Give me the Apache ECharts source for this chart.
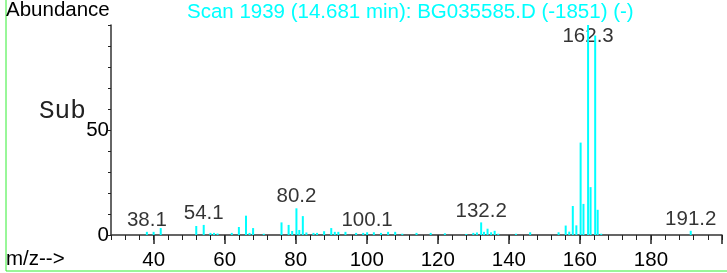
<!DOCTYPE html>
<html>

<head>
  <meta charset="utf-8">
  <title>Mass Spectrum</title>
  <script src="https://cdn.jsdelivr.net/npm/echarts@6/dist/echarts.min.js"></script>
</head>

<body style="margin:0">
  <div id="main" style="width:727px;height:273px"></div>
  <script type="text/javascript">
    var myChart = echarts.init(document.getElementById('main'));

    // m/z of each peak and its relative abundance
    var peakMz = [38.1, 40, 42, 52, 54.1, 56, 57, 58, 62, 64, 66, 67, 68, 71, 76, 78, 79, 80.2, 81, 82,
      83, 85, 86, 88, 90, 91, 92, 94, 97, 99, 100.1, 102, 104, 106, 108, 110, 114, 118, 122, 128,
      130, 131, 132.2, 133, 134, 135, 136, 137, 142, 146, 154, 156, 157, 158, 159, 160.2, 161, 162.3, 163, 164.3,
      165, 166, 191.2];
    var peakAbund = [1.5, 1.5, 3.3, 4.3, 4.8, 1, 1, 0.7, 1, 3.8, 9.2, 1, 3.3, 0.6, 6, 4.8, 1.9, 12.7, 2.4, 9,
      1.2, 1, 1, 1.8, 3.3, 1.5, 1.5, 1.5, 1, 1, 1.3, 1.3, 1, 1.5, 1.5, 0.6, 1, 1, 0.8, 0.5,
      1, 1.2, 6, 1.5, 3, 1.3, 2, 0.6, 0.6, 1.3, 1.3, 4.5, 1.6, 13.8, 4.6, 44, 14.8, 100, 22.8, 95,
      12, 0.6, 2];

    // peaks that carry a mass label
    var labelMz = [38.1, 54.1, 80.2, 100.1, 132.2, 162.3, 191.2];

    var xMajorTicks = [40, 60, 80, 100, 120, 140, 160, 180, 200];
    var xTickLabels = [40, 60, 80, 100, 120, 140, 160, 180];
    var xMinorTicks = [];
    for (var t = 28; t <= 200; t += 4) xMinorTicks.push(t);

    var font = '"Liberation Sans", Arial, sans-serif';
    var fs = 20.5;
    var cyan = '#00ffff';

    var bars = peakMz.map(function (m, i) { return [m, peakAbund[i]]; });
    var labelPts = labelMz.map(function (m) {
      var v = peakAbund[peakMz.indexOf(m)];
      return [m, Math.min(v, 89)];
    });

    var option = {
      animation: false,
      backgroundColor: '#fff',
      title: {
        text: 'Scan 1939 (14.681 min): BG035585.D (-1851) (-)',
        left: 187,
        top: 0,
        padding: 0,
        textStyle: { color: cyan, fontFamily: font, fontSize: fs, fontWeight: 'normal', lineHeight: 24 }
      },
      grid: { left: 111, right: 5, top: 25, bottom: 38 },
      xAxis: [
        {
          type: 'value',
          min: 28,
          max: 200,
          axisLine: { lineStyle: { color: '#333', width: 1.5 } },
          axisTick: { customValues: xMinorTicks, length: 5, lineStyle: { color: '#222' } },
          axisLabel: { customValues: xTickLabels, margin: 15, color: '#000', fontFamily: font, fontSize: fs },
          splitLine: { show: false }
        },
        {
          type: 'value',
          min: 28,
          max: 200,
          position: 'bottom',
          offset: 0,
          axisLine: { show: false },
          axisTick: { customValues: xMajorTicks, length: 9, lineStyle: { color: '#222', width: 1.5 } },
          axisLabel: { show: false },
          splitLine: { show: false }
        }
      ],
      yAxis: {
        type: 'value',
        min: 0,
        max: 100,
        interval: 10,
        axisLine: { show: true, lineStyle: { color: '#333', width: 1.5 } },
        axisTick: { show: true, length: 3, lineStyle: { color: '#222' } },
        axisLabel: {
          margin: 2,
          color: '#000',
          fontFamily: font,
          fontSize: fs,
          formatter: function (v) { return (v === 0 || v === 50) ? String(v) : ''; }
        },
        splitLine: { show: false }
      },
      graphic: [
        { type: 'rect', shape: { x: 6, y: -5, width: 740, height: 276 }, style: { fill: 'none', stroke: '#33ee33', lineWidth: 1 }, z: -1 },
        { type: 'text', style: { text: 'Abundance', x: 6, y: 10, verticalAlign: 'middle', font: fs + 'px ' + font, fill: '#000' } },
        { type: 'text', style: { text: 'm/z-->', x: 6, y: 259, verticalAlign: 'middle', font: fs + 'px ' + font, fill: '#000' } },
        { type: 'text', style: { text: 'Sub', x: 39, y: 111, verticalAlign: 'middle', font: '26px "Liberation Mono", "Courier New", monospace', fill: '#222' } }
      ],
      series: [
        {
          type: 'bar',
          data: bars,
          barWidth: 2,
          itemStyle: { color: cyan },
          z: 3
        },
        {
          type: 'scatter',
          data: labelPts,
          symbolSize: 0,
          z: 1,
          label: {
            show: true,
            position: 'top',
            distance: 1,
            color: '#000',
            fontFamily: font,
            fontSize: fs,
            formatter: function (p) { return p.value[0].toFixed(1); }
          }
        }
      ]
    };

    myChart.setOption(option);
  </script>
</body>

</html>
